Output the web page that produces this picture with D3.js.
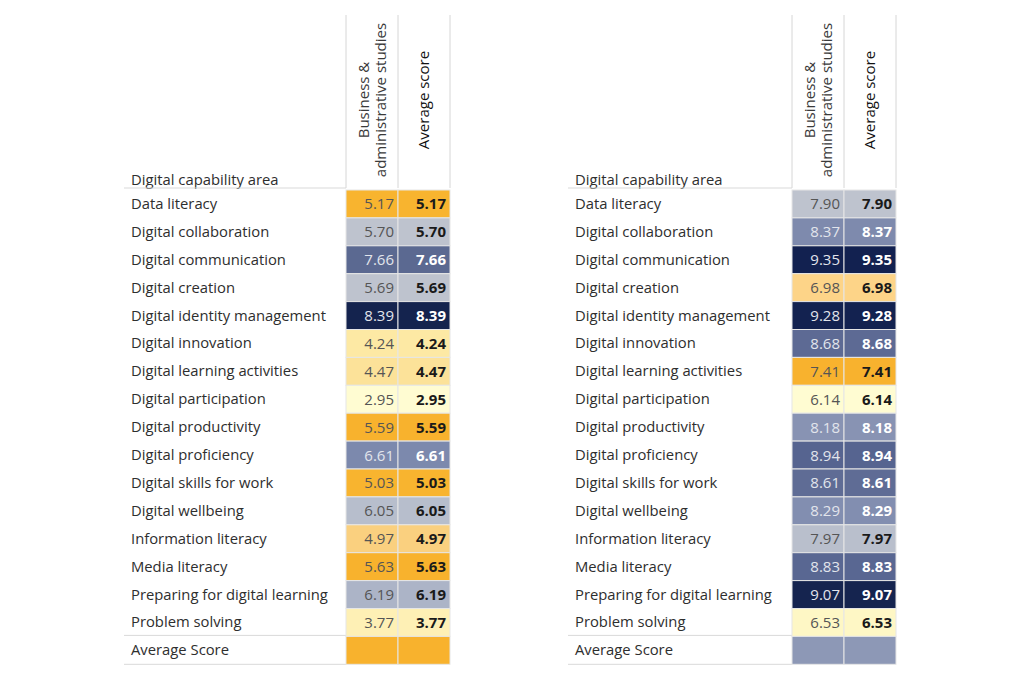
<!DOCTYPE html>
<html>
<head>
<meta charset="utf-8">
<script src="https://cdn.jsdelivr.net/npm/d3@7"></script>
<style>
  body { margin: 0; background: #fff; }
  svg { font-family: "Open Sans", sans-serif; }
</style>
</head>
<body>
<div id="container"></div>
<script>
/* DATA */
const areas = [
  "Data literacy", "Digital collaboration", "Digital communication", "Digital creation",
  "Digital identity management", "Digital innovation", "Digital learning activities",
  "Digital participation", "Digital productivity", "Digital proficiency",
  "Digital skills for work", "Digital wellbeing", "Information literacy",
  "Media literacy", "Preparing for digital learning", "Problem solving"
];
const columns = [["Business &", "administrative studies"], ["Average score"]];
const leftScores = [5.17, 5.70, 7.66, 5.69, 8.39, 4.24, 4.47, 2.95, 5.59, 6.61, 5.03, 6.05, 4.97, 5.63, 6.19, 3.77];
const rightScores = [7.90, 8.37, 9.35, 6.98, 9.28, 8.68, 7.41, 6.14, 8.18, 8.94, 8.61, 8.29, 7.97, 8.83, 9.07, 6.53];

// colour stops (value -> colour) for each table
const leftStops = [2.95, 4.3, 4.97, 5.03, 5.65, 5.69, 6.1, 6.61, 7.66, 8.39];
const leftColors = ["#fffcd2", "#fde8a2", "#fad07f", "#f8b42f", "#f8b22d", "#bec3ce", "#b6bdcc", "#7c89ad", "#5b6991", "#14234e"];
const rightStops = [6.14, 6.53, 6.98, 7.41, 7.9, 7.97, 8.18, 8.37, 8.61, 8.94, 9.07, 9.35];
const rightColors = ["#fffcd2", "#fef7c5", "#fdd488", "#f8b22e", "#bec3ce", "#b9bfcc", "#8893b3", "#7e8aad", "#5f6c95", "#566490", "#15244f", "#122150"];

const width = 1024, height = 682;
const fontSize = 14.8;

const svg = d3.select("#container")
  .append("svg")
  .attr("width", width)
  .attr("height", height);

function drawTable(x0, colX, scores, stops, colors) {
  const rows = [...areas, "Average Score"];
  const color = d3.scaleLinear().domain(stops).range(colors).clamp(true);

  const y = d3.scaleBand()
    .domain(rows)
    .range([190, 190 + 27.9 * rows.length]);

  const x = d3.scaleBand()
    .domain(columns.map((d, i) => i))
    .range([colX, colX + 104]);

  const g = svg.append("g");

  // header label
  g.append("text")
    .attr("x", x0 + 7)
    .attr("y", 185)
    .attr("font-size", fontSize)
    .attr("fill", "#2e2e2e")
    .text("Digital capability area");

  // vertical header rules
  g.selectAll(".vrule")
    .data([colX, colX + x.bandwidth(), colX + 2 * x.bandwidth()])
    .join("line")
    .attr("x1", d => d).attr("x2", d => d)
    .attr("y1", 15).attr("y2", 188)
    .attr("stroke", "#d6d6d6");

  // column titles (rotated)
  columns.forEach((lines, ci) => {
    const cx = x(ci) + x.bandwidth() / 2;
    const t = g.append("text")
      .attr("transform", `translate(${cx},100) rotate(-90)`)
      .attr("text-anchor", "middle")
      .attr("font-size", 15)
      .attr("fill", ci === 0 ? "#3a3a3a" : "#111");
    lines.forEach((l, li) => {
      t.append("tspan")
        .attr("x", 0)
        .attr("y", (li - (lines.length - 1) / 2) * 17 + 5)
        .text(l);
    });
  });

  // horizontal rules in the label area
  g.selectAll(".hrule")
    .data([y.range()[0] - 2, y("Average Score") - 1, y.range()[1]])
    .join("line")
    .attr("x1", x0).attr("x2", colX)
    .attr("y1", d => d).attr("y2", d => d)
    .attr("stroke", "#d9d9d9");

  // row labels
  g.selectAll(".rowlabel")
    .data(rows)
    .join("text")
    .attr("x", x0 + 7)
    .attr("y", d => y(d) + y.bandwidth() / 2 + 5)
    .attr("font-size", fontSize)
    .attr("fill", "#2e2e2e")
    .text(d => d);

  // cells
  const avg = d3.mean(scores);
  const cells = [];
  columns.forEach((c, ci) => {
    scores.forEach((v, i) => cells.push({ ci, row: areas[i], v, label: true }));
    cells.push({ ci, row: "Average Score", v: avg, label: false });
  });

  g.selectAll(".cell")
    .data(cells)
    .join("rect")
    .attr("x", d => x(d.ci))
    .attr("y", d => y(d.row))
    .attr("width", x.bandwidth())
    .attr("height", y.bandwidth())
    .attr("fill", d => color(d.v))
    .attr("stroke", "#e6e6e6")
    .attr("stroke-width", 1);

  g.selectAll(".val")
    .data(cells.filter(d => d.label))
    .join("text")
    .attr("x", d => x(d.ci) + x.bandwidth() - 4)
    .attr("y", d => y(d.row) + y.bandwidth() / 2 + 5.5)
    .attr("text-anchor", "end")
    .attr("font-size", 15)
    .attr("font-weight", d => d.ci === 1 ? "bold" : "normal")
    .attr("fill", d => {
      const dark = d3.lab(color(d.v)).l < 66;
      if (d.ci === 1) return dark ? "#ffffff" : "#1a1a1a";
      return dark ? "#e2e5ec" : "#555";
    })
    .text(d => d3.format(".2f")(d.v));
}

drawTable(124, 346, leftScores, leftStops, leftColors);
drawTable(568, 792, rightScores, rightStops, rightColors);
</script>
</body>
</html>
